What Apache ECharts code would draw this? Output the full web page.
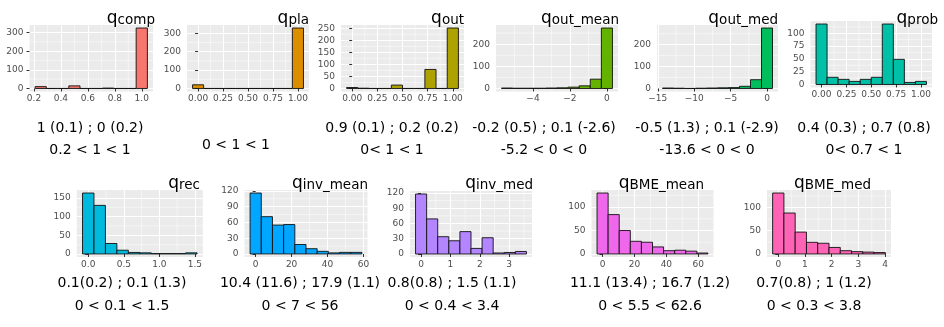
<!DOCTYPE html>
<html><head><meta charset="utf-8">
<script src="https://cdn.jsdelivr.net/npm/echarts@6/dist/echarts.min.js"></script>
<style>html,body{margin:0;padding:0;background:#fff}#wrap{position:relative;width:944px;height:327px}#c,#o{position:absolute;left:0;top:0;width:944px;height:327px}#o{pointer-events:none}</style>
</head><body><div id="wrap"><div id="c"></div><div id="o"></div></div>
<script>
// ---------------- data ----------------
const panelNames = ['comp','pla','out','out_mean','out_med','prob','rec','inv_mean','inv_med','BME_mean','BME_med'];
const firstBinCenter = [0.25, 0, 0, -5.4, -13.6, 0, 0, 0, 0, 0, 0];
const binWidth = [0.08333, 0.11111, 0.11111, 0.6, 1.5111, 0.11111, 0.1611, 6.2222, 0.37778, 6.9556, 0.42222];

const countsComp    = [10, 0, 0, 14, 0, 0, 2, 0, 0, 325];
const countsPla     = [20, 0, 0, 0, 0, 0, 0, 0, 0, 328];
const countsOut     = [4, 1, 0, 0, 14, 0, 0, 79, 0, 251];
const countsOutMean = [2, 1, 1, 1, 2, 3, 6, 12, 42, 273];
const countsOutMed  = [2, 1, 0, 1, 2, 3, 4, 10, 40, 276];
const countsProb    = [118, 14, 10, 6, 10, 14, 118, 49, 4, 6];
const countsRec     = [163, 130, 28, 10, 4, 3, 1, 1, 1, 3];
const countsInvMean = [116, 71, 55, 56, 18, 10, 5, 2, 3, 3];
const countsInvMed  = [118, 69, 34, 26, 44, 11, 32, 2, 3, 5];
const countsBmeMean = [130, 84, 50, 27, 25, 15, 7, 8, 6, 2];
const countsBmeMed  = [131, 88, 47, 25, 23, 14, 7, 5, 4, 3];

const xTicksComp = [0.2, 0.4, 0.6, 0.8, 1.0];   const xLabelsComp = ['0.2','0.4','0.6','0.8','1.0'];
const xTicksQuarter = [0, 0.25, 0.5, 0.75, 1]; const xLabelsQuarter = ['0.00','0.25','0.50','0.75','1.00'];
const xTicksOutMean = [-4, -2, 0];             const xLabelsOutMean = ['\u22124','\u22122','0'];
const xTicksOutMed = [-15, -10, -5, 0];        const xLabelsOutMed = ['\u221215','\u221210','\u22125','0'];
const xTicksRec = [0, 0.5, 1, 1.5];            const xLabelsRec = ['0.0','0.5','1.0','1.5'];
const xTicksTwenty = [0, 20, 40, 60];          const xLabelsTwenty = ['0','20','40','60'];
const xTicksInvMed = [0, 1, 2, 3];             const xLabelsInvMed = ['0','1','2','3'];
const xTicksBmeMed = [0, 1, 2, 3, 4];          const xLabelsBmeMed = ['0','1','2','3','4'];

const yTicksHundred = [0, 100, 200, 300];
const yTicksOut = [0, 50, 100, 150, 200, 250];
const yTicksOutMean = [0, 100, 200];
const yTicksProb = [0, 25, 50, 75, 100];
const yTicksRec = [0, 50, 100, 150];
const yTicksThirty = [0, 30, 60, 90, 120];
const yTicksFifty = [0, 50, 100];

const statsComp    = ['1 (0.1) ; 0 (0.2)', '0.2 < 1 < 1'];
const statsPla     = ['0 < 1 < 1'];
const statsOut     = ['0.9 (0.1) ; 0.2 (0.2)', '0< 1 < 1'];
const statsOutMean = ['-0.2 (0.5) ; 0.1 (-2.6)', '-5.2 < 0 < 0'];
const statsOutMed  = ['-0.5 (1.3) ; 0.1 (-2.9)', '-13.6 < 0 < 0'];
const statsProb    = ['0.4 (0.3) ; 0.7 (0.8)', '0< 0.7 < 1'];
const statsRec     = ['0.1(0.2) ; 0.1 (1.3)', '0 < 0.1 < 1.5'];
const statsInvMean = ['10.4 (11.6) ; 17.9 (1.1)', '0 < 7 < 56'];
const statsInvMed  = ['0.8(0.8) ; 1.5 (1.1)', '0 < 0.4 < 3.4'];
const statsBmeMean = ['11.1 (13.4) ; 16.7 (1.2)', '0 < 5.5 < 62.6'];
const statsBmeMed  = ['0.7(0.8) ; 1 (1.2)', '0 < 0.3 < 3.8'];

// ---------------- layout / style ----------------
const colors = ['#F8766D','#DB8E00','#AEA200','#64B200','#00BD5C','#00C1A7','#00BADE','#00A6FF','#B385FF','#EF67EB','#FF63B6'];
const counts = [countsComp,countsPla,countsOut,countsOutMean,countsOutMed,countsProb,countsRec,countsInvMean,countsInvMed,countsBmeMean,countsBmeMed];
const xTicks = [xTicksComp,xTicksQuarter,xTicksQuarter,xTicksOutMean,xTicksOutMed,xTicksQuarter,xTicksRec,xTicksTwenty,xTicksInvMed,xTicksTwenty,xTicksBmeMed];
const xLabels = [xLabelsComp,xLabelsQuarter,xLabelsQuarter,xLabelsOutMean,xLabelsOutMed,xLabelsQuarter,xLabelsRec,xLabelsTwenty,xLabelsInvMed,xLabelsTwenty,xLabelsBmeMed];
const yTicks = [yTicksHundred,yTicksHundred,yTicksOut,yTicksOutMean,yTicksOutMean,yTicksProb,yTicksRec,yTicksThirty,yTicksThirty,yTicksFifty,yTicksFifty];
const stats = [statsComp,statsPla,statsOut,statsOutMean,statsOutMed,statsProb,statsRec,statsInvMean,statsInvMed,statsBmeMean,statsBmeMed];

const boxes = [
  [29.5, 25, 123.5, 66.5],
  [187, 25, 122, 66.5],
  [341, 25, 123, 66.5],
  [496, 25, 122, 66.5],
  [657, 25, 121, 66.5],
  [810.5, 21, 121.5, 66.5],
  [76.8, 190, 126, 67],
  [244.5, 190, 123, 67],
  [410, 191, 122, 66],
  [591.5, 190, 122, 67],
  [767, 190, 124, 67]
];
const titleRight = [155, 309, 464, 619, 778, 938, 200, 368, 533, 704, 871];
const titleTop = [5, 5, 5, 5, 5, 5, 170, 170, 170, 170, 170];
const statsX = [90, 236, 392, 544, 707, 864, 122, 300, 452, 650, 814];
const statsY = [[128,150],[145],[128,150],[128,150],[128,150],[128,150],[283,306],[283,306],[283,306],[283,306],[283,306]];

const FONT = 'DejaVu Sans';
const grids = [], xAxes = [], yAxes = [], series = [], titles = [], graphics = [];
const ranges = [];

function minorOf(ticks, lo, hi) {
  const step = ticks[1] - ticks[0];
  const out = [];
  for (let k = -1; k < ticks.length; k++) {
    const v = (k < 0 ? ticks[0] - step : ticks[k]) + step / 2;
    if (v > lo && v < hi) out.push(v);
  }
  return out;
}

for (let i = 0; i < panelNames.length; i++) {
  const c0 = firstBinCenter[i], w = binWidth[i];
  const xmin = c0 - w, xmax = c0 + 10 * w;
  const M = Math.max(...counts[i]);
  const ymin = -0.05 * M, ymax = 1.05 * M;
  ranges.push([xmin, xmax, ymin, ymax]);
  const b = boxes[i];
  grids.push({left: b[0], top: b[1], width: b[2], height: b[3], show: true, backgroundColor: '#EBEBEB', borderWidth: 0});
  const xt = xTicks[i], xl = xLabels[i];
  const fmtX = v => { for (let k = 0; k < xt.length; k++) if (Math.abs(xt[k] - v) < 1e-6) return xl[k]; return ''; };
  xAxes.push({
    type: 'value', gridIndex: i, min: xmin, max: xmax, position: 'bottom',
    axisLine: {show: false},
    axisTick: {show: true, length: 3, customValues: xt, lineStyle: {color: '#333333', width: 1}},
    axisLabel: {show: true, customValues: xt, formatter: fmtX, color: '#4D4D4D', fontSize: 9, fontFamily: FONT, margin: 3},
    splitLine: {show: true, lineStyle: {color: '#FFFFFF', width: 1}}
  });
  const yt = yTicks[i];
  yAxes.push({
    type: 'value', gridIndex: i, min: ymin, max: ymax, position: 'left',
    axisLine: {show: false},
    axisTick: {show: true, length: 3, customValues: yt, lineStyle: {color: '#333333', width: 1}},
    axisLabel: {show: false, customValues: yt},
    splitLine: {show: true, lineStyle: {color: '#FFFFFF', width: 1}}
  });
  const minorData = minorOf(xt, xmin, xmax).map(v => [v, 0]).concat(minorOf(yt, ymin, ymax).map(v => [v, 1]));
  series.push({
    type: 'custom', xAxisIndex: i, yAxisIndex: i, silent: true, animation: false, z: 1,
    data: minorData,
    renderItem: (params, api) => {
      const v = api.value(0), dir = api.value(1);
      const cs = params.coordSys;
      if (dir === 0) {
        const x = api.coord([v, 0])[0];
        return {type: 'line', shape: {x1: x, y1: cs.y, x2: x, y2: cs.y + cs.height}, style: {stroke: '#FFFFFF', lineWidth: 0.5}};
      }
      const y = api.coord([xmin, v])[1];
      return {type: 'line', shape: {x1: cs.x, y1: y, x2: cs.x + cs.width, y2: y}, style: {stroke: '#FFFFFF', lineWidth: 0.5}};
    }
  });
  const color = colors[i], half = w / 2;
  series.push({
    type: 'custom', xAxisIndex: i, yAxisIndex: i, silent: true, animation: false, z: 2,
    data: counts[i].map((c, k) => [c0 + k * w, c]),
    renderItem: (params, api) => {
      const xc = api.value(0), c = api.value(1);
      const p1 = api.coord([xc - half, c]);
      const p2 = api.coord([xc + half, 0]);
      return {type: 'rect', shape: {x: p1[0], y: p1[1], width: p2[0] - p1[0], height: p2[1] - p1[1]},
        style: {fill: color, stroke: '#111111', lineWidth: 0.9}};
    }
  });
  titles.push({
    text: '{q|q}{s|' + panelNames[i] + '}', right: 944 - titleRight[i], top: titleTop[i], padding: 0,
    textStyle: {fontWeight: 'normal', rich: {
      q: {fontFamily: FONT, fontSize: 17, fontWeight: 'normal', color: '#000', lineHeight: 22, verticalAlign: 'bottom'},
      s: {fontFamily: FONT, fontSize: 13.5, fontWeight: 'normal', color: '#000', lineHeight: 15, verticalAlign: 'bottom'}
    }}
  });
  stats[i].forEach((t, k) => {
    graphics.push({type: 'text', silent: true, style: {text: t, x: statsX[i], y: statsY[i][k], align: 'center', verticalAlign: 'middle',
      font: '14px "DejaVu Sans"', fill: '#000'}});
  });
}

const chart = echarts.init(document.getElementById('c'), null, {renderer: 'canvas'});
chart.setOption({
  animation: false, backgroundColor: '#FFFFFF',
  title: titles, grid: grids, xAxis: xAxes, yAxis: yAxes, series: series, graphic: graphics
});

// y tick labels, placed through each panel's own y scale, on a transparent layer above
const overlay = echarts.init(document.getElementById('o'), null, {renderer: 'canvas'});
const yLabelGraphics = [];
for (let i = 0; i < panelNames.length; i++) {
  const r = ranges[i];
  yTicks[i].forEach(v => {
    const p = chart.convertToPixel({xAxisIndex: i, yAxisIndex: i}, [r[0], v]);
    yLabelGraphics.push({type: 'text', silent: true, style: {text: String(v), x: p[0] - 6, y: p[1], align: 'right', verticalAlign: 'middle',
      font: '9px "DejaVu Sans"', fill: '#4D4D4D'}});
  });
}
overlay.setOption({animation: false, backgroundColor: 'transparent', graphic: yLabelGraphics});
</script></body></html>
